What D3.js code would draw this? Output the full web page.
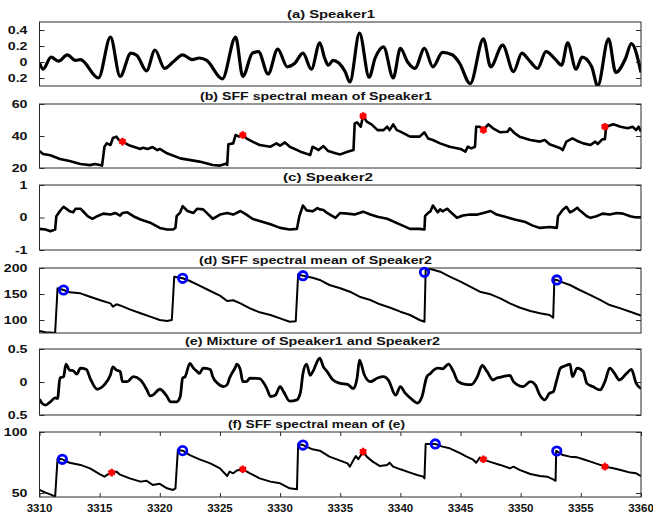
<!DOCTYPE html>
<html>
<head>
<meta charset="utf-8">
<script src="https://cdn.jsdelivr.net/npm/d3@7"></script>
<style>
  body { margin: 0; background: #fff; }
  text { font-family: "Liberation Sans", Arial, sans-serif; font-weight: bold; fill: #111; }
</style>
</head>
<body>
<svg id="chart" width="653" height="517"></svg>
<script>
// x axis (sample index)
const xDomain = [3310, 3360];
const xTicks = [3310, 3315, 3320, 3325, 3330, 3335, 3340, 3345, 3350, 3355, 3360];

// (a) Speaker1 waveform  [t, value]
const spk1Wave = [[3310.0,-0.01],[3310.3,-0.09],[3310.96,0.06],[3311.6,0.01],[3312.3,0.09],[3313.0,0.02],[3313.4,0.03],[3314.9,-0.2],[3315.9,0.31],[3316.7,-0.18],[3317.6,0.11],[3318.1,0.08],[3318.9,-0.11],[3319.6,0.15],[3320.4,-0.08],[3321.1,0],[3321.9,0.09],[3322.7,0.03],[3323.3,0.05],[3323.9,0.02],[3325.2,-0.21],[3326.3,0.31],[3326.9,-0.18],[3327.7,0.11],[3328.2,0.13],[3329.0,-0.15],[3329.8,0.16],[3330.6,-0.06],[3331.2,-0.02],[3331.9,0.11],[3332.6,-0.09],[3333.3,0.24],[3333.7,0.05],[3334.0,-0.04],[3334.4,0.02],[3335.4,-0.12],[3335.8,-0.25],[3336.6,0.36],[3337.4,-0.19],[3337.9,0.05],[3338.6,0.19],[3339.4,-0.2],[3340.0,0.17],[3340.6,0],[3341.2,-0.08],[3342.0,0.17],[3342.7,-0.06],[3343.5,0.12],[3344.3,0.09],[3344.9,-0.01],[3345.8,-0.27],[3346.9,0.29],[3347.5,-0.06],[3348.5,0.21],[3349.4,-0.12],[3350.1,0.11],[3350.6,0.04],[3351.4,-0.08],[3352.1,0.13],[3352.9,0.03],[3353.4,-0.04],[3353.9,0.24],[3354.6,-0.09],[3355.1,0.06],[3355.9,-0.06],[3356.4,-0.3],[3357.3,0.29],[3357.9,-0.13],[3358.7,0.04],[3359.2,0.23],[3360.0,-0.13]];

// (b) SFF spectral mean of Speaker1
const spk1Sff = [[3310.0,30.6],[3310.3,28.8],[3310.9,28],[3311.7,25.6],[3312.5,24.4],[3313.4,22.5],[3314.2,21.8],[3314.6,22.5],[3315.2,21.5],[3315.4,33.3],[3315.6,35.4],[3315.9,34.4],[3316.1,38.7],[3316.4,39.6],[3316.6,37.5],[3316.9,36.5],[3317.5,34],[3318.4,31.9],[3318.6,32.7],[3319.0,31.9],[3319.4,33.1],[3319.8,31.2],[3320.0,31.9],[3320.6,29.2],[3321.7,26],[3323.3,24],[3324.4,21.9],[3325.0,21.5],[3325.5,22.7],[3325.6,22.0],[3325.7,34.8],[3326.1,35.4],[3326.3,40.6],[3326.6,39.6],[3326.9,40.6],[3327.2,38.5],[3327.7,36.5],[3328.3,34.4],[3329.2,33.3],[3329.7,35.4],[3330.0,34],[3330.4,36],[3330.8,33.3],[3331.7,30.2],[3332.5,28.1],[3332.7,33.3],[3333.2,31.2],[3333.6,33.7],[3334.0,30.6],[3334.6,29.2],[3335.0,28.5],[3335.6,30.2],[3336.1,31.2],[3336.2,47.9],[3336.4,48.5],[3336.7,45.8],[3336.9,52.5],[3337.2,49],[3337.6,47.3],[3338.1,43.7],[3338.6,43.7],[3338.9,45.8],[3339.1,43.7],[3339.4,47.3],[3339.7,43.7],[3340.0,42.7],[3340.8,39.6],[3341.6,39.6],[3342.0,42.3],[3342.3,38.5],[3342.7,37.5],[3343.3,35.4],[3344.1,33.3],[3345.0,31.9],[3345.4,30.2],[3345.6,33.3],[3345.9,32.3],[3346.2,33.3],[3346.3,45.8],[3346.6,45.8],[3346.9,43.7],[3347.3,47.3],[3347.7,44.8],[3348.3,42.3],[3348.9,42.7],[3349.1,44.8],[3349.5,41.7],[3349.9,39.6],[3350.8,37.5],[3351.6,36.5],[3352.0,37.5],[3352.4,34.8],[3353.3,32.3],[3353.5,31.2],[3353.8,36.5],[3354.3,38.5],[3354.7,36.9],[3355.2,35.4],[3355.8,34.4],[3356.2,36.5],[3356.4,35],[3356.8,38],[3357.0,38],[3357.1,45.8],[3357.7,47.3],[3358.3,45.8],[3358.9,44.8],[3359.3,45.8],[3359.6,43.7],[3359.8,45.8],[3360.0,42.7]];
const spk1Peaks = [[3316.9,36.5],[3326.9,40.6],[3336.9,52.5],[3346.9,43.7],[3357.0,45.8]];

// (c) Speaker2 waveform
const spk2Wave = [[3310.0,-0.35],[3310.5,-0.37],[3310.9,-0.42],[3311.3,-0.37],[3311.4,0.04],[3311.5,0.09],[3311.7,0.2],[3312.0,0.33],[3312.3,0.25],[3312.5,0.19],[3312.8,0.16],[3313.0,0.27],[3313.4,0.27],[3313.6,0.2],[3314.0,0.04],[3314.4,-0.04],[3314.8,0.04],[3315.3,0.12],[3315.9,0.09],[3316.3,0.14],[3316.7,0.06],[3316.9,0.14],[3317.3,0.16],[3317.8,0.04],[3318.4,-0.06],[3319.2,-0.16],[3320.0,-0.32],[3320.6,-0.37],[3321.1,-0.37],[3321.3,-0.32],[3321.4,0.04],[3321.7,0.16],[3321.9,0.35],[3322.3,0.2],[3322.8,0.14],[3323.1,0.27],[3323.6,0.25],[3323.9,0.14],[3324.4,-0.04],[3325.0,0.09],[3325.6,0.14],[3326.1,0.09],[3326.7,0.2],[3327.2,0.09],[3327.7,-0.04],[3328.3,-0.11],[3329.2,-0.21],[3330.0,-0.32],[3330.8,-0.37],[3331.4,-0.35],[3331.6,0.04],[3331.9,0.37],[3332.2,0.22],[3332.7,0.19],[3333.1,0.29],[3333.3,0.25],[3333.6,0.23],[3333.9,0.14],[3334.6,-0.01],[3335.0,0.14],[3335.6,0.12],[3336.2,0.09],[3336.9,0.18],[3337.5,0.09],[3338.1,0.02],[3338.9,-0.04],[3340.0,-0.22],[3340.8,-0.35],[3341.6,-0.35],[3342.0,-0.37],[3342.05,0.04],[3342.3,0.14],[3342.5,0.19],[3342.7,0.37],[3343.1,0.16],[3343.3,0.25],[3343.5,0.19],[3343.9,0.27],[3344.1,0.19],[3344.7,-0.01],[3345.2,0.06],[3345.8,0.09],[3346.4,0.09],[3346.9,0.14],[3347.5,0.2],[3348.0,0.09],[3348.7,0.02],[3349.5,-0.06],[3350.4,-0.14],[3351.0,-0.25],[3351.6,-0.32],[3352.4,-0.29],[3353.0,-0.32],[3353.1,0.04],[3353.3,0.14],[3353.5,0.24],[3353.8,0.33],[3354.1,0.16],[3354.3,0.19],[3354.7,0.3],[3354.9,0.22],[3355.5,0.04],[3355.8,-0.01],[3356.3,0.04],[3356.8,0.12],[3357.4,0.09],[3358.0,0.14],[3358.5,0.12],[3359.1,0.04],[3359.5,0.01],[3360.0,0.01]];

// (d) SFF spectral mean of Speaker2
const spk2Sff = [[3310.0,78.8],[3310.5,76.3],[3311.2,75.6],[3311.3,75.5],[3311.5,161],[3312.0,157.7],[3312.5,153.2],[3313.4,151.3],[3314.2,144.8],[3315.0,138.5],[3315.9,132],[3316.1,125.6],[3316.4,130.2],[3316.7,128],[3317.5,120.5],[3318.4,112.9],[3319.2,106.4],[3320.0,100],[3320.6,98],[3321.0,100],[3321.2,183],[3321.9,180.2],[3322.5,175],[3323.3,166],[3324.2,155.8],[3325.0,146.8],[3325.6,136.5],[3326.1,138],[3326.7,132],[3327.5,122.4],[3328.3,114.8],[3329.2,109.6],[3330.0,103.2],[3330.8,96.7],[3331.3,97.5],[3331.5,187.8],[3331.9,185.2],[3332.7,181.3],[3333.3,177],[3334.1,167.3],[3335.0,161],[3335.8,154.4],[3336.6,144.8],[3337.5,138.5],[3338.3,130.2],[3339.1,124],[3340.0,116],[3340.8,109.6],[3341.6,100],[3342.0,96.7],[3342.1,196],[3342.5,198],[3343.3,192.9],[3344.1,183.3],[3345.0,173.7],[3345.8,164],[3346.6,154.4],[3347.5,149.4],[3348.3,141.7],[3349.1,132],[3349.9,124],[3350.8,117.3],[3351.6,112.9],[3352.4,109.6],[3352.7,104.4],[3352.8,178],[3353.0,177],[3353.3,173.7],[3354.1,167.3],[3354.9,157.7],[3355.8,148],[3356.6,138.5],[3357.4,128.8],[3358.3,122.4],[3359.1,116],[3360.0,108.3]];
const spk2Peaks = [[3312.0,157.7],[3321.9,180.2],[3331.9,185.2],[3342.0,191.7],[3353.0,177]];

// (e) mixture waveform
const mixWave = [[3310.0,-0.26],[3310.2,-0.32],[3310.5,-0.35],[3310.9,-0.3],[3311.3,-0.24],[3311.5,-0.25],[3311.7,0.06],[3312.0,0.08],[3312.2,0.27],[3312.5,0.18],[3312.8,0.17],[3313.1,0.12],[3313.4,0.21],[3313.9,0.19],[3314.2,0.06],[3314.8,-0.11],[3315.0,-0.1],[3315.4,-0.04],[3315.9,0.11],[3316.1,0.23],[3316.4,0.18],[3316.7,0.16],[3316.9,0.005],[3317.3,0.005],[3317.8,0.08],[3318.4,0.03],[3318.9,-0.11],[3319.2,-0.21],[3319.4,-0.2],[3320.0,-0.11],[3320.6,-0.22],[3320.9,-0.3],[3321.4,-0.3],[3321.7,-0.22],[3321.9,0.06],[3322.1,0.08],[3322.5,0.28],[3322.8,0.21],[3323.1,0.16],[3323.3,0.13],[3323.6,0.21],[3324.2,0.19],[3324.4,0.08],[3324.8,-0.02],[3325.3,-0.07],[3325.6,-0.04],[3325.8,0.06],[3326.3,0.23],[3326.4,0.27],[3326.7,0.18],[3326.9,0.005],[3327.2,0.005],[3327.5,0.06],[3328.3,0.05],[3328.9,-0.1],[3329.2,-0.22],[3329.6,-0.2],[3330.0,-0.07],[3330.3,-0.15],[3330.8,-0.29],[3331.4,-0.27],[3331.7,-0.15],[3331.9,0.13],[3332.2,0.27],[3332.5,0.1],[3332.7,0.15],[3333.3,0.36],[3333.6,0.23],[3333.9,0.16],[3334.4,0.03],[3335.0,-0.02],[3335.6,-0.035],[3336.1,-0.1],[3336.4,0.06],[3336.6,0.33],[3337.0,0.11],[3337.5,0.005],[3338.1,0.06],[3338.6,0.08],[3339.0,0.03],[3339.6,-0.2],[3340.0,-0.07],[3340.4,-0.17],[3341.0,-0.27],[3341.4,-0.32],[3341.8,-0.22],[3342.2,0.08],[3342.5,0.13],[3342.7,0.17],[3343.1,0.21],[3343.5,0.2],[3344.0,0.27],[3344.4,0.16],[3344.8,0.005],[3345.4,-0.035],[3345.9,-0.04],[3346.4,0.08],[3346.8,0.25],[3347.2,0.16],[3347.7,0.03],[3348.0,0.06],[3348.5,0.08],[3349.1,0.1],[3349.4,0.005],[3349.7,-0.04],[3350.2,-0.07],[3350.8,0.005],[3351.2,-0.04],[3351.6,-0.2],[3352.0,-0.27],[3352.4,-0.17],[3352.7,-0.15],[3353.0,0.03],[3353.3,0.21],[3353.5,0.23],[3353.9,0.26],[3354.1,0.27],[3354.3,0.08],[3354.7,0.21],[3355.2,0.16],[3355.5,-0.02],[3356.0,-0.07],[3356.6,-0.12],[3357.0,0.005],[3357.4,0.21],[3357.8,0.13],[3358.2,0.03],[3358.8,0.13],[3359.2,0.19],[3359.6,-0.02],[3360.0,-0.1]];

// (f) SFF spectral mean of mixture
const mixSff = [[3310.0,52.5],[3310.5,50.3],[3311.0,48.4],[3311.3,47],[3311.5,78],[3311.9,77.6],[3312.5,74.8],[3313.4,73],[3314.2,70.2],[3315.0,65.5],[3315.4,63.4],[3315.9,66.7],[3316.4,67.5],[3316.7,65],[3317.5,62],[3318.4,59.3],[3318.9,60],[3319.4,56.6],[3320.0,57.5],[3320.6,53.8],[3321.1,52.5],[3321.3,53.8],[3321.5,85.2],[3321.9,84.7],[3322.5,81.1],[3323.3,77.6],[3324.2,74.3],[3325.0,70.2],[3325.6,63.9],[3325.8,67.5],[3326.1,66.1],[3326.4,68.5],[3326.9,69.4],[3327.5,66.1],[3328.3,62],[3329.2,59.3],[3330.0,57.9],[3330.8,53.8],[3331.4,53],[3331.5,90.2],[3331.9,89.3],[3332.7,85.8],[3333.3,84.7],[3334.1,79.8],[3335.0,76.5],[3335.6,74.3],[3335.8,71.6],[3336.1,77],[3336.3,80.2],[3336.5,77.6],[3336.9,83.9],[3337.2,79.8],[3337.7,75.7],[3338.3,72.1],[3338.9,73],[3339.1,74.8],[3339.4,71.6],[3340.0,69.4],[3340.8,66.7],[3341.4,64.8],[3341.9,63.4],[3342.0,62],[3342.1,90.2],[3342.9,90.2],[3343.5,88],[3344.1,86.6],[3345.0,82.5],[3345.5,79.8],[3346.0,77.6],[3346.3,74.8],[3346.6,79],[3346.9,77.6],[3347.4,75.7],[3348.3,73],[3349.1,70.2],[3349.4,71.6],[3349.9,68.9],[3350.8,65.6],[3351.6,63.9],[3352.2,63.4],[3352.7,61.2],[3352.9,60],[3352.95,84.4],[3353.0,84.4],[3353.5,81.1],[3354.1,79.8],[3354.7,79.2],[3355.2,77.6],[3355.8,75.7],[3356.6,73],[3357.0,71.6],[3357.7,70.2],[3358.3,68.9],[3359.1,66.7],[3359.6,66.1],[3360.0,63.9]];
const mixSpk2Peaks = [[3311.9,77.6],[3321.9,84.7],[3331.9,89.3],[3342.9,90.2],[3353.0,84.4]];
const mixSpk1Peaks = [[3316.0,66.7],[3326.9,69.4],[3336.9,83.9],[3346.9,77.6],[3357.0,71.6]];

// panel titles and y tick labels (as printed)
const titles = ["(a) Speaker1", "(b) SFF spectral mean of Speaker1", "(c) Speaker2",
  "(d) SFF spectral mean of Speaker2", "(e) Mixture of Speaker1 and Speaker2", "(f) SFF spectral mean of (e)"];
const yDomains = [[-0.3, 0.5], [20, 60], [-1, 1], [75, 200], [-0.5, 0.5], [46.7, 100]];
const yTicks = [[0.4, 0.2, 0, -0.2], [60, 40, 20], [1, 0, -1], [200, 150, 100], [0.5, 0, -0.5], [100, 50]];
const yTickLabels = [["0.4", "0.2", "0", "0.2"], ["60", "40", "20"], ["1", "0", "-1"], ["200", "150", "100"], ["0.5", "0", "0.5"], ["100", "50"]];

// layout
const left = 39.5, right = 641;
const panels = [
  { top: 22, bottom: 86, data: spk1Wave, lw: 3.2, smooth: true, titleX: 287, titleW: 88 },
  { top: 104, bottom: 168, data: spk1Sff, lw: 2.6, titleX: 200, titleW: 232, stars: spk1Peaks },
  { top: 185, bottom: 250, data: spk2Wave, lw: 2.6, titleX: 283, titleW: 90 },
  { top: 268, bottom: 333, data: spk2Sff, lw: 2, titleX: 199, titleW: 233, circles: spk2Peaks },
  { top: 349, bottom: 415, data: mixWave, lw: 2.8, smooth: true, titleX: 185, titleW: 255 },
  { top: 432, bottom: 497, data: mixSff, lw: 2, titleX: 228, titleW: 177, circles: mixSpk2Peaks, stars: mixSpk1Peaks, xAxis: true }
];

const svg = d3.select("#chart");
const x = d3.scaleLinear().domain(xDomain).range([left, right]);

panels.forEach((p, i) => {
  const y = d3.scaleLinear().domain(yDomains[i]).range([p.bottom, p.top]);
  const g = svg.append("g");

  g.append("clipPath").attr("id", "clip" + i)
    .append("rect").attr("x", left).attr("y", p.top).attr("width", right - left).attr("height", p.bottom - p.top);

  // curve
  const line = d3.line().x(d => x(d[0])).y(d => y(d[1]))
    .curve(p.smooth ? d3.curveMonotoneX : d3.curveLinear);
  g.append("path").datum(p.data)
    .attr("clip-path", `url(#clip${i})`)
    .attr("fill", "none").attr("stroke", "#000")
    .attr("stroke-width", p.lw).attr("stroke-linejoin", "round")
    .attr("d", line);

  // box
  g.append("rect").attr("x", left).attr("y", p.top)
    .attr("width", right - left).attr("height", p.bottom - p.top)
    .attr("fill", "none").attr("stroke", "#2b2b2b").attr("stroke-width", 1);

  // y axes, ticks inward on both sides
  const yl = d3.axisRight(y).tickValues(yTicks[i]).tickSize(5).tickFormat("");
  g.append("g").attr("transform", `translate(${left},0)`).call(yl)
    .call(a => a.select(".domain").remove())
    .selectAll("line").attr("stroke", "#2b2b2b");
  const yr = d3.axisLeft(y).tickValues(yTicks[i]).tickSize(5).tickFormat("");
  g.append("g").attr("transform", `translate(${right},0)`).call(yr)
    .call(a => a.select(".domain").remove())
    .selectAll("line").attr("stroke", "#2b2b2b");

  // tick labels: the source figure is stretched sideways, so widen the glyphs
  g.selectAll(".ylab").data(yTicks[i]).join("text")
    .attr("transform", d => `translate(27.5,${y(d)}) scale(1.35,1)`)
    .attr("dy", "0.36em")
    .attr("text-anchor", "end").attr("font-size", 10.5)
    .text((d, k) => yTickLabels[i][k]);

  // title
  g.append("text").attr("x", p.titleX).attr("y", p.top - 4)
    .attr("font-size", 10).attr("textLength", p.titleW).attr("lengthAdjust", "spacingAndGlyphs")
    .text(titles[i]);

  if (p.xAxis) {
    const xb = d3.axisTop(x).tickValues(xTicks).tickSize(4).tickFormat("");
    g.append("g").attr("transform", `translate(0,${p.bottom})`).call(xb)
      .call(a => a.select(".domain").remove())
      .selectAll("line").attr("stroke", "#2b2b2b");
    const xt = d3.axisBottom(x).tickValues(xTicks).tickSize(4).tickFormat("");
    g.append("g").attr("transform", `translate(0,${p.top})`).call(xt)
      .call(a => a.select(".domain").remove())
      .selectAll("line").attr("stroke", "#2b2b2b");
    g.selectAll(".xlab").data(xTicks).join("text")
      .attr("transform", d => `translate(${x(d)},${p.bottom + 15}) scale(1.15,1)`)
      .attr("text-anchor", "middle").attr("font-size", 10)
      .text(d => d);
  }

  if (p.circles) {
    g.selectAll(".pk2").data(p.circles).join("circle")
      .attr("cx", d => x(d[0])).attr("cy", d => y(d[1])).attr("r", 4.2)
      .attr("fill", "none").attr("stroke", "#0000ff").attr("stroke-width", 2.8);
  }
  if (p.stars) {
    const star = d3.symbol().type(d3.symbolAsterisk).size(40);
    g.selectAll(".pk1").data(p.stars).join("path")
      .attr("transform", d => `translate(${x(d[0])},${y(d[1])})`)
      .attr("d", star).attr("fill", "none").attr("stroke", "#ff0000").attr("stroke-width", 2.5);
    g.selectAll(".pk1c").data(p.stars).join("circle")
      .attr("cx", d => x(d[0])).attr("cy", d => y(d[1])).attr("r", 2.8)
      .attr("fill", "#ff0000");
  }
});
</script>
</body>
</html>
